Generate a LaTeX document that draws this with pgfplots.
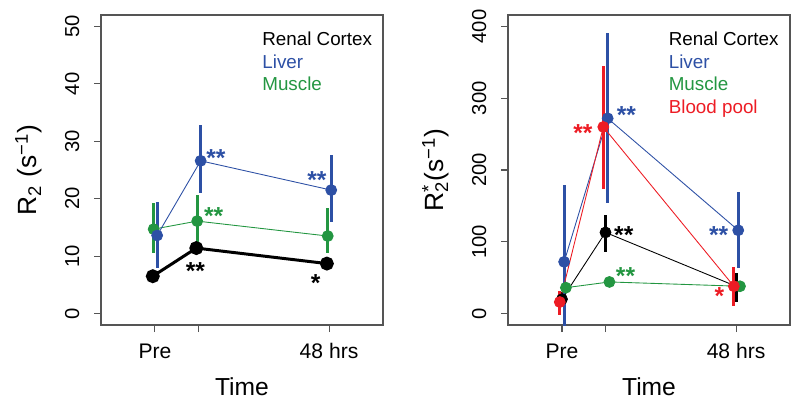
\documentclass[border=0pt]{standalone}
\usepackage{fontspec}
\setmainfont{Liberation Sans}
\usepackage{pgfplots}
\pgfplotsset{compat=1.18}

\definecolor{rblue}{RGB}{45,80,165}
\definecolor{rgreen}{RGB}{35,150,65}
\definecolor{rred}{RGB}{237,28,36}
\definecolor{frame}{RGB}{85,85,85}

\pgfplotsset{
  rpanel/.style={
    scale only axis, width=5.64cm, height=6.2cm,
    xmin=-1.24, xmax=5.24,
    axis line style={draw=frame, line width=0.6pt},
    tick style={draw=frame, line width=0.6pt},
    tick align=outside, major tick length=0.14cm,
    xtick pos=bottom, ytick pos=left,
    xtick={0,1,4}, xticklabels={Pre,,48 hrs},
    xticklabel style={font=\fontsize{12}{12}\selectfont, anchor=base, inner sep=0pt, yshift=-0.52cm},
    yticklabel style={font=\fontsize{11.5}{11.5}\selectfont, rotate=90, anchor=base, inner sep=0pt},
    yticklabel shift=0.3cm,
    /pgf/number format/assume math mode=true,
    xlabel={Time},
    xlabel style={font=\fontsize{14}{14}\selectfont, at={(axis description cs:0.5,-0.226)}, anchor=base, inner sep=0pt},
    ylabel style={font=\fontsize{15}{15}\selectfont, at={(axis description cs:-0.227,0.5)}, anchor=base, inner sep=0pt},
    clip=true,
  },
  ser/.style={#1, line width=0.5pt, mark=*, mark size=3.1pt, mark options={solid,fill=#1},
    error bars/.cd, y dir=both, y explicit, error mark=none,
    error bar style={line width=1.7pt, #1}, /pgfplots/.cd},
}
\tikzset{
  star/.style={#1, anchor=north, inner sep=0pt, font=\fontsize{14}{14}\bfseries\selectfont},
  leg/.style={#1, anchor=base west, inner sep=0pt, font=\fontsize{10.7}{10.7}\selectfont},
}

\begin{document}
\begin{tikzpicture}
\path[use as bounding box] (0,0) rectangle (16cm,8.16cm);

% left panel: R2
\begin{axis}[rpanel, at={(2.02cm,1.66cm)}, anchor=south west,
  ymin=-2, ymax=52, ytick={0,10,...,50},
  ylabel={R\textsubscript{2} (s\textsuperscript{−1})}]
\addplot[ser=rgreen] coordinates {
  (-0.03,14.7) += (0,4.5) -= (0,4.2)
  (0.97,16.1)  += (0,4.5) -= (0,4.6)
  (3.97,13.5)  += (0,4.8) -= (0,3.0)};
\addplot[ser=rblue] coordinates {
  (0.05,13.6) += (0,5.8) -= (0,5.6)
  (1.05,26.6) += (0,6.3) -= (0,5.6)
  (4.05,21.5) += (0,6.1) -= (0,5.5)};
\addplot[ser=black, /tikz/line width=1.7pt] coordinates {
  (-0.05,6.5) += (0,0.9) -= (0,0.9)
  (0.95,11.4) += (0,1.1) -= (0,1.1)
  (3.95,8.7)  += (0,0.9) -= (0,0.9)};
\node[star=rblue] at (axis cs:1.40,28.7) {**};
\node[star=rblue] at (axis cs:3.72,24.8) {**};
\node[star=rgreen] at (axis cs:1.35,18.5) {**};
\node[star=black] at (axis cs:0.93,8.9) {**};
\node[star=black] at (axis cs:3.69,6.8) {*};
\node[leg=black] at (axis description cs:0.571,0.903) {Renal Cortex};
\node[leg=rblue] at (axis description cs:0.571,0.829) {Liver};
\node[leg=rgreen] at (axis description cs:0.571,0.755) {Muscle};
\end{axis}

% right panel: R2*
\begin{axis}[rpanel, at={(10.16cm,1.66cm)}, anchor=south west,
  ymin=-16, ymax=416, ytick={0,100,...,400},
  ylabel={R\rlap{\textsuperscript{*}}\textsubscript{2}(s\textsuperscript{−1})}]
\addplot[ser=rblue] coordinates {
  (0.05,72)  += (0,107) -= (0,100)
  (1.05,272) += (0,119) -= (0,118)
  (4.05,116) += (0,54)  -= (0,53)};
\addplot[ser=black] coordinates {
  (0,20)  += (0,10) -= (0,10)
  (1,113) += (0,24) -= (0,27)
  (4,38)  += (0,18) -= (0,22)};
\addplot[ser=rgreen] coordinates {
  (0.09,36) += (0,5) -= (0,5)
  (1.09,44) += (0,4) -= (0,4)
  (4.09,38) += (0,5) -= (0,5)};
\addplot[ser=rred] coordinates {
  (-0.05,16) += (0,16) -= (0,18)
  (0.95,260) += (0,85) -= (0,86)
  (3.95,38)  += (0,27) -= (0,27)};
\node[star=rblue] at (axis cs:1.48,288.5) {**};
\node[star=rred] at (axis cs:0.48,264) {**};
\node[star=black] at (axis cs:1.42,122) {**};
\node[star=rgreen] at (axis cs:1.46,64.8) {**};
\node[star=rblue] at (axis cs:3.60,122) {**};
\node[star=rred] at (axis cs:3.62,36) {*};
\node[leg=black] at (axis description cs:0.569,0.903) {Renal Cortex};
\node[leg=rblue] at (axis description cs:0.569,0.829) {Liver};
\node[leg=rgreen] at (axis description cs:0.569,0.755) {Muscle};
\node[leg=rred] at (axis description cs:0.569,0.681) {Blood pool};
\end{axis}
\end{tikzpicture}
\end{document}
